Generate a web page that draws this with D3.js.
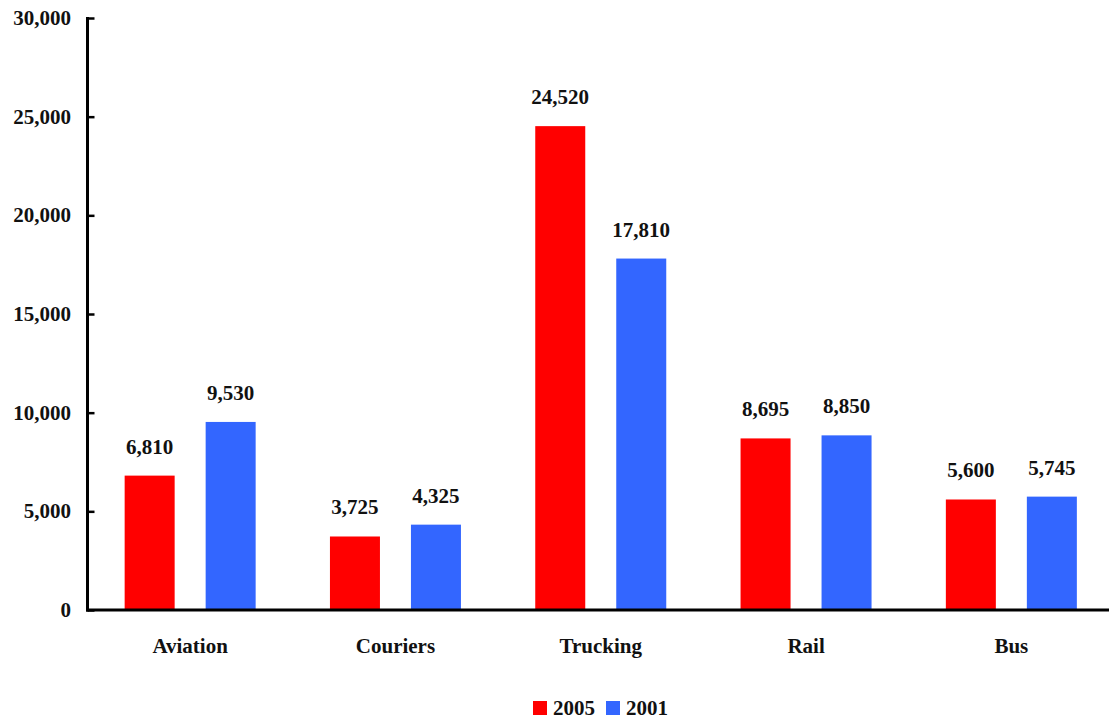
<!DOCTYPE html>
<html><head><meta charset="utf-8">
<script src="https://cdn.jsdelivr.net/npm/d3@7"></script>
<style>
html,body{margin:0;padding:0;background:#fff;}
text{font-family:"Liberation Serif","Times New Roman",serif;font-weight:bold;fill:#111;}
</style></head>
<body><svg id="c" width="1109" height="721"></svg>
<script>
const categories = ["Aviation","Couriers","Trucking","Rail","Bus"];
const seriesNames = ["2005","2001"];
const values2005 = [6810,3725,24520,8695,5600];
const values2001 = [9530,4325,17810,8850,5745];
const yTicks = [0,5000,10000,15000,20000,25000,30000];
const colors = ["#FF0000","#3366FF"];

const svg = d3.select("#c");
const mLeft = 87.5, mRight = 1114, mTop = 18, mBottom = 610;
const fs = "21px";
const x0 = d3.scaleBand().domain(categories).range([mLeft, mRight]).padding(0);
const half = 65.5;
const x1 = d3.scaleBand().domain(seriesNames)
  .range([x0.bandwidth()/2 - half, x0.bandwidth()/2 + half]).paddingInner(31/81).paddingOuter(0);
const y = d3.scaleLinear().domain([0,30000]).range([mBottom, mTop]);
const color = d3.scaleOrdinal().domain(seriesNames).range(colors);
const fmt = d3.format(",");

const data = categories.map((c,i)=>({cat:c, vals:[
  {s:"2005", v:values2005[i]}, {s:"2001", v:values2001[i]}]}));

const g = svg.selectAll("g.grp").data(data).enter().append("g")
  .attr("transform", d=>`translate(${x0(d.cat)},0)`);
g.selectAll("rect").data(d=>d.vals).enter().append("rect")
  .attr("x", d=>x1(d.s)).attr("width", x1.bandwidth())
  .attr("y", d=>y(d.v)).attr("height", d=>mBottom - y(d.v))
  .attr("fill", d=>color(d.s));
g.selectAll("text.val").data(d=>d.vals).enter().append("text")
  .attr("class","val")
  .attr("x", d=>x1(d.s)+x1.bandwidth()/2).attr("y", d=>y(d.v)-22)
  .attr("text-anchor","middle").attr("font-size",fs)
  .text(d=>fmt(d.v));

// y axis
const yAxis = d3.axisRight(y).tickValues(yTicks).tickSize(7).tickFormat("");
const ya = svg.append("g").attr("transform",`translate(${mLeft},0)`).call(yAxis);
ya.select(".domain").remove();
ya.selectAll(".tick line").attr("stroke","#000").attr("stroke-width",2.5);
svg.append("line").attr("x1",mLeft).attr("x2",mLeft).attr("y1",mTop-1).attr("y2",mBottom+1.5)
  .attr("stroke","#000").attr("stroke-width",3);
svg.selectAll("text.ytl").data(yTicks).enter().append("text").attr("class","ytl")
  .attr("x", 71).attr("y", d=>y(d)).attr("dy","0.33em")
  .attr("text-anchor","end").attr("font-size",fs).text(d=>fmt(d));

// x axis
svg.append("line").attr("x1",mLeft-1.5).attr("x2",1109).attr("y1",mBottom).attr("y2",mBottom)
  .attr("stroke","#000").attr("stroke-width",3);
svg.selectAll("text.xl").data(categories).enter().append("text").attr("class","xl")
  .attr("x", d=>x0(d)+x0.bandwidth()/2).attr("y", 653)
  .attr("text-anchor","middle").attr("font-size",fs).text(d=>d);

// legend
const leg = [{s:"2005", x:533, tx:553},{s:"2001", x:606, tx:626}];
leg.forEach(l=>{
  svg.append("rect").attr("x",l.x).attr("y",701).attr("width",14).attr("height",14).attr("fill",color(l.s));
  svg.append("text").attr("x",l.tx).attr("y",715).attr("font-size",fs).text(l.s);
});
</script></body></html>
